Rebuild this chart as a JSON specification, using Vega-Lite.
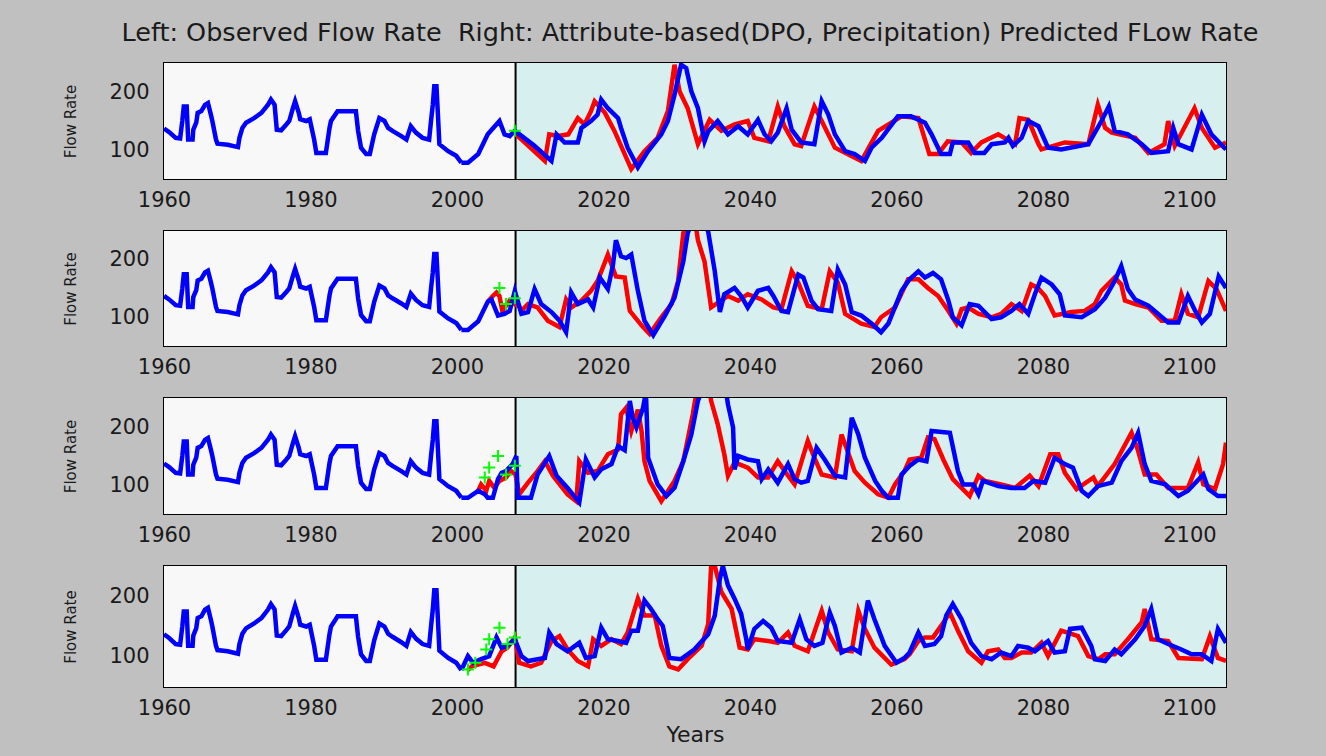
{
"$schema": "https://vega.github.io/schema/vega-lite/v6.json",
"background": "#c0c0c0",
"padding": {"left": 62, "top": 20, "right": 101, "bottom": 12},
"title": {"text": "Left: Observed Flow Rate \u00a0Right: Attribute-based(DPO, Precipitation) Predicted FLow Rate", "fontSize": 25.5, "font": "DejaVu Sans", "fontWeight": "normal", "color": "#1a1a1a", "anchor": "middle", "offset": 15, "dx": 45},
"spacing": 52,
"bounds": "flush",
"config": {
  "view": {"stroke": "#000000", "strokeWidth": 2},
  "axis": {"domain": false, "grid": false, "zindex": 1, "tickColor": "#000000", "tickWidth": 2, "labelFont": "DejaVu Sans", "labelFontSize": 21, "labelColor": "#1a1a1a", "titleFont": "DejaVu Sans", "titleFontSize": 15, "titleFontWeight": "normal", "titleColor": "#1a1a1a", "labelFlush": false, "labelOverlap": false}
},
"datasets": {
  "bg": [{"a": 1960, "b": 2008, "c": "obs"}, {"a": 2008, "b": 2105, "c": "pred"}],
  "obs": [
    {"t":1960,"v":137},{"t":1960.7,"v":131},{"t":1961.6,"v":121},{"t":1962.2,"v":120},{"t":1962.5,"v":150},{"t":1962.7,"v":175},{"t":1963.1,"v":175},{"t":1963.3,"v":118},{"t":1963.9,"v":118},{"t":1964.0,"v":135},{"t":1964.4,"v":147},{"t":1964.6,"v":164},{"t":1965.1,"v":167},{"t":1965.6,"v":178},{"t":1966.0,"v":181},{"t":1966.4,"v":161},{"t":1966.6,"v":150},{"t":1967.1,"v":118},{"t":1967.3,"v":111},{"t":1968.7,"v":109},{"t":1970.1,"v":105},{"t":1970.3,"v":121},{"t":1970.7,"v":138},{"t":1971.2,"v":147},{"t":1972.3,"v":155},{"t":1973.3,"v":164},{"t":1974.2,"v":178},{"t":1974.6,"v":187},{"t":1975.1,"v":178},{"t":1975.4,"v":135},{"t":1976.0,"v":134},{"t":1976.7,"v":144},{"t":1977.1,"v":150},{"t":1977.6,"v":172},{"t":1977.9,"v":184},{"t":1978.4,"v":164},{"t":1978.6,"v":153},{"t":1979.4,"v":150},{"t":1979.9,"v":153},{"t":1980.5,"v":118},{"t":1980.8,"v":95},{"t":1982.1,"v":95},{"t":1982.6,"v":138},{"t":1982.8,"v":150},{"t":1983.7,"v":167},{"t":1986.2,"v":167},{"t":1986.5,"v":133},{"t":1986.9,"v":104},{"t":1987.6,"v":93},{"t":1988.1,"v":93},{"t":1988.7,"v":127},{"t":1989.4,"v":155},{"t":1990.1,"v":150},{"t":1990.6,"v":138},{"t":1991.2,"v":133},{"t":1992.4,"v":124},{"t":1993.1,"v":118},{"t":1993.7,"v":141},{"t":1994.4,"v":130},{"t":1995.3,"v":121},{"t":1996.2,"v":118},{"t":1996.5,"v":155},{"t":1996.7,"v":178},{"t":1996.9,"v":210},{"t":1997.2,"v":210},{"t":1997.4,"v":161},{"t":1997.6,"v":110},{"t":1998.8,"v":98},{"t":1999.9,"v":90},{"t":2000.6,"v":78}
  ],
  "ser": [
    {"p":1,"s":"B","t":2000.6,"v":78},{"p":1,"s":"B","t":2001.5,"v":78},{"p":1,"s":"B","t":2002.9,"v":93},{"p":1,"s":"B","t":2004.2,"v":127},{"p":1,"s":"B","t":2005.8,"v":150},{"p":1,"s":"B","t":2006.5,"v":127},{"p":1,"s":"B","t":2007.2,"v":124},{"p":1,"s":"B","t":2007.9,"v":133},{"p":1,"s":"B","t":2010.5,"v":108},{"p":1,"s":"B","t":2012.9,"v":81},{"p":1,"s":"B","t":2013.6,"v":127},{"p":1,"s":"B","t":2014.7,"v":113},{"p":1,"s":"B","t":2016.5,"v":113},{"p":1,"s":"B","t":2017,"v":138},{"p":1,"s":"B","t":2018.3,"v":150},{"p":1,"s":"B","t":2019.2,"v":161},{"p":1,"s":"B","t":2019.7,"v":187},{"p":1,"s":"B","t":2020.6,"v":172},{"p":1,"s":"B","t":2022,"v":155},{"p":1,"s":"B","t":2022.4,"v":138},{"p":1,"s":"B","t":2023.3,"v":104},{"p":1,"s":"B","t":2024.7,"v":70},{"p":1,"s":"B","t":2026.1,"v":98},{"p":1,"s":"B","t":2027.9,"v":127},{"p":1,"s":"B","t":2028.8,"v":150},{"p":1,"s":"B","t":2029.7,"v":195},{"p":1,"s":"B","t":2030.6,"v":247},{"p":1,"s":"B","t":2031.3,"v":241},{"p":1,"s":"B","t":2032,"v":201},{"p":1,"s":"B","t":2032.9,"v":172},{"p":1,"s":"B","t":2033.8,"v":115},{"p":1,"s":"B","t":2034.3,"v":132},{"p":1,"s":"B","t":2035.6,"v":150},{"p":1,"s":"B","t":2037,"v":127},{"p":1,"s":"B","t":2038.4,"v":141},{"p":1,"s":"B","t":2039.7,"v":127},{"p":1,"s":"B","t":2041.1,"v":152},{"p":1,"s":"B","t":2042,"v":127},{"p":1,"s":"B","t":2042.9,"v":115},{"p":1,"s":"B","t":2043.8,"v":130},{"p":1,"s":"B","t":2045,"v":172},{"p":1,"s":"B","t":2045.7,"v":135},{"p":1,"s":"B","t":2047,"v":113},{"p":1,"s":"B","t":2048.8,"v":110},{"p":1,"s":"B","t":2049.8,"v":184},{"p":1,"s":"B","t":2050.7,"v":161},{"p":1,"s":"B","t":2051.6,"v":127},{"p":1,"s":"B","t":2053,"v":98},{"p":1,"s":"B","t":2054.3,"v":93},{"p":1,"s":"B","t":2055.7,"v":81},{"p":1,"s":"B","t":2056.6,"v":104},{"p":1,"s":"B","t":2058,"v":121},{"p":1,"s":"B","t":2060.2,"v":158},{"p":1,"s":"B","t":2062,"v":158},{"p":1,"s":"B","t":2063.9,"v":147},{"p":1,"s":"B","t":2064.8,"v":127},{"p":1,"s":"B","t":2066.1,"v":93},{"p":1,"s":"B","t":2067.3,"v":93},{"p":1,"s":"B","t":2067.7,"v":113},{"p":1,"s":"B","t":2069.8,"v":113},{"p":1,"s":"B","t":2070.7,"v":95},{"p":1,"s":"B","t":2072,"v":95},{"p":1,"s":"B","t":2073,"v":110},{"p":1,"s":"B","t":2074.8,"v":113},{"p":1,"s":"B","t":2075.3,"v":121},{"p":1,"s":"B","t":2075.9,"v":107},{"p":1,"s":"B","t":2077.1,"v":121},{"p":1,"s":"B","t":2078,"v":150},{"p":1,"s":"B","t":2079.4,"v":141},{"p":1,"s":"B","t":2080.7,"v":104},{"p":1,"s":"B","t":2082.5,"v":101},{"p":1,"s":"B","t":2086.2,"v":110},{"p":1,"s":"B","t":2088,"v":150},{"p":1,"s":"B","t":2089,"v":175},{"p":1,"s":"B","t":2089.8,"v":133},{"p":1,"s":"B","t":2091.6,"v":127},{"p":1,"s":"B","t":2093.5,"v":110},{"p":1,"s":"B","t":2094.8,"v":95},{"p":1,"s":"B","t":2097.1,"v":98},{"p":1,"s":"B","t":2097.8,"v":138},{"p":1,"s":"B","t":2098.5,"v":110},{"p":1,"s":"B","t":2100.3,"v":101},{"p":1,"s":"B","t":2101.7,"v":161},{"p":1,"s":"B","t":2103,"v":127},{"p":1,"s":"B","t":2105,"v":101},
    {"p":1,"s":"R","t":2007.9,"v":133},{"p":1,"s":"R","t":2008.2,"v":125},{"p":1,"s":"R","t":2012,"v":81},{"p":1,"s":"R","t":2012.6,"v":127},{"p":1,"s":"R","t":2013.8,"v":124},{"p":1,"s":"R","t":2015.2,"v":127},{"p":1,"s":"R","t":2016.5,"v":155},{"p":1,"s":"R","t":2017.4,"v":144},{"p":1,"s":"R","t":2018.3,"v":167},{"p":1,"s":"R","t":2018.8,"v":184},{"p":1,"s":"R","t":2020.2,"v":164},{"p":1,"s":"R","t":2021.5,"v":133},{"p":1,"s":"R","t":2023.8,"v":67},{"p":1,"s":"R","t":2025.6,"v":98},{"p":1,"s":"R","t":2027.4,"v":121},{"p":1,"s":"R","t":2028.8,"v":167},{"p":1,"s":"R","t":2029.7,"v":247},{"p":1,"s":"R","t":2030.4,"v":201},{"p":1,"s":"R","t":2031.5,"v":172},{"p":1,"s":"R","t":2032.9,"v":110},{"p":1,"s":"R","t":2034.5,"v":152},{"p":1,"s":"R","t":2036.1,"v":133},{"p":1,"s":"R","t":2037.9,"v":144},{"p":1,"s":"R","t":2039.7,"v":150},{"p":1,"s":"R","t":2040.6,"v":121},{"p":1,"s":"R","t":2042.5,"v":115},{"p":1,"s":"R","t":2043.8,"v":175},{"p":1,"s":"R","t":2044.7,"v":141},{"p":1,"s":"R","t":2046.1,"v":110},{"p":1,"s":"R","t":2047,"v":107},{"p":1,"s":"R","t":2048.8,"v":175},{"p":1,"s":"R","t":2049.8,"v":150},{"p":1,"s":"R","t":2051.6,"v":104},{"p":1,"s":"R","t":2055.2,"v":81},{"p":1,"s":"R","t":2057.5,"v":133},{"p":1,"s":"R","t":2060.7,"v":158},{"p":1,"s":"R","t":2063,"v":155},{"p":1,"s":"R","t":2064.5,"v":93},{"p":1,"s":"R","t":2065.7,"v":93},{"p":1,"s":"R","t":2067,"v":115},{"p":1,"s":"R","t":2068.9,"v":113},{"p":1,"s":"R","t":2070.2,"v":95},{"p":1,"s":"R","t":2071.6,"v":113},{"p":1,"s":"R","t":2073.9,"v":127},{"p":1,"s":"R","t":2076.2,"v":110},{"p":1,"s":"R","t":2076.8,"v":155},{"p":1,"s":"R","t":2078,"v":152},{"p":1,"s":"R","t":2079.4,"v":110},{"p":1,"s":"R","t":2079.8,"v":101},{"p":1,"s":"R","t":2083,"v":113},{"p":1,"s":"R","t":2086.2,"v":110},{"p":1,"s":"R","t":2087.5,"v":178},{"p":1,"s":"R","t":2088.5,"v":138},{"p":1,"s":"R","t":2089.4,"v":130},{"p":1,"s":"R","t":2092.6,"v":121},{"p":1,"s":"R","t":2094.4,"v":95},{"p":1,"s":"R","t":2096.6,"v":110},{"p":1,"s":"R","t":2097.1,"v":150},{"p":1,"s":"R","t":2098,"v":107},{"p":1,"s":"R","t":2100.7,"v":172},{"p":1,"s":"R","t":2101.7,"v":138},{"p":1,"s":"R","t":2103.5,"v":104},{"p":1,"s":"R","t":2105,"v":113},
    {"p":2,"s":"B","t":2000.6,"v":78},{"p":2,"s":"B","t":2001.5,"v":78},{"p":2,"s":"B","t":2002.9,"v":93},{"p":2,"s":"B","t":2004.2,"v":127},{"p":2,"s":"B","t":2004.7,"v":131},{"p":2,"s":"B","t":2005.6,"v":103},{"p":2,"s":"B","t":2006.5,"v":106},{"p":2,"s":"B","t":2007.2,"v":111},{"p":2,"s":"B","t":2007.9,"v":146},{"p":2,"s":"B","t":2008.8,"v":106},{"p":2,"s":"B","t":2009.7,"v":109},{"p":2,"s":"B","t":2010.6,"v":149},{"p":2,"s":"B","t":2011.5,"v":123},{"p":2,"s":"B","t":2012.9,"v":109},{"p":2,"s":"B","t":2014,"v":94},{"p":2,"s":"B","t":2014.9,"v":74},{"p":2,"s":"B","t":2015.6,"v":143},{"p":2,"s":"B","t":2016.5,"v":123},{"p":2,"s":"B","t":2017.9,"v":131},{"p":2,"s":"B","t":2018.6,"v":117},{"p":2,"s":"B","t":2019.5,"v":169},{"p":2,"s":"B","t":2020.6,"v":149},{"p":2,"s":"B","t":2021.3,"v":191},{"p":2,"s":"B","t":2021.7,"v":234},{"p":2,"s":"B","t":2022.4,"v":206},{"p":2,"s":"B","t":2023.1,"v":203},{"p":2,"s":"B","t":2023.8,"v":209},{"p":2,"s":"B","t":2024.7,"v":146},{"p":2,"s":"B","t":2025.6,"v":94},{"p":2,"s":"B","t":2026.8,"v":69},{"p":2,"s":"B","t":2028.4,"v":103},{"p":2,"s":"B","t":2029.7,"v":134},{"p":2,"s":"B","t":2030.9,"v":197},{"p":2,"s":"B","t":2031.5,"v":246},{"p":2,"s":"B","t":2032.8,"v":290},{"p":2,"s":"B","t":2034.3,"v":249},{"p":2,"s":"B","t":2035.2,"v":180},{"p":2,"s":"B","t":2035.9,"v":109},{"p":2,"s":"B","t":2036.5,"v":140},{"p":2,"s":"B","t":2037.9,"v":151},{"p":2,"s":"B","t":2038.8,"v":137},{"p":2,"s":"B","t":2039.7,"v":117},{"p":2,"s":"B","t":2041.1,"v":146},{"p":2,"s":"B","t":2042.5,"v":151},{"p":2,"s":"B","t":2043.2,"v":137},{"p":2,"s":"B","t":2044.3,"v":111},{"p":2,"s":"B","t":2045.2,"v":109},{"p":2,"s":"B","t":2046.6,"v":174},{"p":2,"s":"B","t":2047.3,"v":169},{"p":2,"s":"B","t":2048.4,"v":129},{"p":2,"s":"B","t":2049.3,"v":114},{"p":2,"s":"B","t":2051.1,"v":111},{"p":2,"s":"B","t":2052,"v":183},{"p":2,"s":"B","t":2053,"v":157},{"p":2,"s":"B","t":2053.9,"v":109},{"p":2,"s":"B","t":2055.2,"v":103},{"p":2,"s":"B","t":2056.6,"v":89},{"p":2,"s":"B","t":2057.9,"v":74},{"p":2,"s":"B","t":2058.9,"v":89},{"p":2,"s":"B","t":2060.7,"v":146},{"p":2,"s":"B","t":2061.8,"v":166},{"p":2,"s":"B","t":2063,"v":180},{"p":2,"s":"B","t":2063.9,"v":169},{"p":2,"s":"B","t":2065,"v":177},{"p":2,"s":"B","t":2066.1,"v":166},{"p":2,"s":"B","t":2067.1,"v":129},{"p":2,"s":"B","t":2067.7,"v":100},{"p":2,"s":"B","t":2068.9,"v":86},{"p":2,"s":"B","t":2070,"v":123},{"p":2,"s":"B","t":2071.2,"v":120},{"p":2,"s":"B","t":2073,"v":97},{"p":2,"s":"B","t":2074.3,"v":100},{"p":2,"s":"B","t":2075.7,"v":111},{"p":2,"s":"B","t":2076.8,"v":123},{"p":2,"s":"B","t":2078,"v":106},{"p":2,"s":"B","t":2078.9,"v":140},{"p":2,"s":"B","t":2079.8,"v":169},{"p":2,"s":"B","t":2081.2,"v":157},{"p":2,"s":"B","t":2082.3,"v":140},{"p":2,"s":"B","t":2083,"v":103},{"p":2,"s":"B","t":2085.3,"v":100},{"p":2,"s":"B","t":2087.1,"v":114},{"p":2,"s":"B","t":2088.5,"v":134},{"p":2,"s":"B","t":2089.8,"v":163},{"p":2,"s":"B","t":2090.7,"v":189},{"p":2,"s":"B","t":2091.6,"v":149},{"p":2,"s":"B","t":2092.6,"v":131},{"p":2,"s":"B","t":2094.4,"v":120},{"p":2,"s":"B","t":2095.7,"v":106},{"p":2,"s":"B","t":2097.1,"v":91},{"p":2,"s":"B","t":2098.5,"v":91},{"p":2,"s":"B","t":2099.8,"v":137},{"p":2,"s":"B","t":2100.8,"v":111},{"p":2,"s":"B","t":2101.7,"v":91},{"p":2,"s":"B","t":2102.8,"v":106},{"p":2,"s":"B","t":2104,"v":171},{"p":2,"s":"B","t":2105,"v":151},
    {"p":2,"s":"R","t":2004.2,"v":127},{"p":2,"s":"R","t":2004.9,"v":137},{"p":2,"s":"R","t":2005.4,"v":143},{"p":2,"s":"R","t":2005.8,"v":137},{"p":2,"s":"R","t":2006.2,"v":111},{"p":2,"s":"R","t":2007.2,"v":129},{"p":2,"s":"R","t":2007.9,"v":123},{"p":2,"s":"R","t":2008.1,"v":129},{"p":2,"s":"R","t":2008.8,"v":111},{"p":2,"s":"R","t":2009.7,"v":123},{"p":2,"s":"R","t":2011,"v":117},{"p":2,"s":"R","t":2012.4,"v":94},{"p":2,"s":"R","t":2014,"v":83},{"p":2,"s":"R","t":2014.9,"v":131},{"p":2,"s":"R","t":2015.6,"v":117},{"p":2,"s":"R","t":2017,"v":129},{"p":2,"s":"R","t":2018.3,"v":146},{"p":2,"s":"R","t":2019.2,"v":163},{"p":2,"s":"R","t":2020.6,"v":209},{"p":2,"s":"R","t":2021.7,"v":171},{"p":2,"s":"R","t":2022.9,"v":169},{"p":2,"s":"R","t":2023.6,"v":111},{"p":2,"s":"R","t":2025.2,"v":86},{"p":2,"s":"R","t":2026.3,"v":71},{"p":2,"s":"R","t":2027.9,"v":100},{"p":2,"s":"R","t":2029.3,"v":123},{"p":2,"s":"R","t":2030.2,"v":163},{"p":2,"s":"R","t":2030.9,"v":246},{"p":2,"s":"R","t":2031.7,"v":285},{"p":2,"s":"R","t":2032.6,"v":260},{"p":2,"s":"R","t":2032.9,"v":234},{"p":2,"s":"R","t":2033.8,"v":197},{"p":2,"s":"R","t":2034.7,"v":117},{"p":2,"s":"R","t":2037,"v":137},{"p":2,"s":"R","t":2038.4,"v":129},{"p":2,"s":"R","t":2039.7,"v":140},{"p":2,"s":"R","t":2041.6,"v":131},{"p":2,"s":"R","t":2043.2,"v":117},{"p":2,"s":"R","t":2044.3,"v":114},{"p":2,"s":"R","t":2045.7,"v":180},{"p":2,"s":"R","t":2046.6,"v":160},{"p":2,"s":"R","t":2047.9,"v":120},{"p":2,"s":"R","t":2049.8,"v":114},{"p":2,"s":"R","t":2050.9,"v":180},{"p":2,"s":"R","t":2052,"v":160},{"p":2,"s":"R","t":2053,"v":106},{"p":2,"s":"R","t":2055.2,"v":89},{"p":2,"s":"R","t":2057,"v":83},{"p":2,"s":"R","t":2057.9,"v":100},{"p":2,"s":"R","t":2059.8,"v":117},{"p":2,"s":"R","t":2061.6,"v":166},{"p":2,"s":"R","t":2063,"v":166},{"p":2,"s":"R","t":2064.3,"v":151},{"p":2,"s":"R","t":2065.7,"v":137},{"p":2,"s":"R","t":2067.1,"v":111},{"p":2,"s":"R","t":2068.2,"v":89},{"p":2,"s":"R","t":2068.9,"v":114},{"p":2,"s":"R","t":2069.8,"v":117},{"p":2,"s":"R","t":2071.2,"v":106},{"p":2,"s":"R","t":2073,"v":100},{"p":2,"s":"R","t":2074.3,"v":106},{"p":2,"s":"R","t":2075.7,"v":123},{"p":2,"s":"R","t":2077.1,"v":111},{"p":2,"s":"R","t":2078.4,"v":157},{"p":2,"s":"R","t":2079.3,"v":151},{"p":2,"s":"R","t":2080.3,"v":137},{"p":2,"s":"R","t":2081.6,"v":103},{"p":2,"s":"R","t":2083.9,"v":109},{"p":2,"s":"R","t":2085.7,"v":111},{"p":2,"s":"R","t":2087.1,"v":123},{"p":2,"s":"R","t":2088,"v":146},{"p":2,"s":"R","t":2089.8,"v":169},{"p":2,"s":"R","t":2090.7,"v":157},{"p":2,"s":"R","t":2091.2,"v":129},{"p":2,"s":"R","t":2092.6,"v":123},{"p":2,"s":"R","t":2094.4,"v":117},{"p":2,"s":"R","t":2096.2,"v":94},{"p":2,"s":"R","t":2098,"v":94},{"p":2,"s":"R","t":2098.9,"v":140},{"p":2,"s":"R","t":2099.8,"v":106},{"p":2,"s":"R","t":2101.2,"v":100},{"p":2,"s":"R","t":2102.6,"v":163},{"p":2,"s":"R","t":2103.7,"v":149},{"p":2,"s":"R","t":2105,"v":111},
    {"p":3,"s":"B","t":2000.6,"v":78},{"p":3,"s":"B","t":2001.5,"v":78},{"p":3,"s":"B","t":2002.9,"v":90},{"p":3,"s":"B","t":2003.8,"v":84},{"p":3,"s":"B","t":2004.2,"v":78},{"p":3,"s":"B","t":2004.9,"v":78},{"p":3,"s":"B","t":2005.6,"v":110},{"p":3,"s":"B","t":2006.1,"v":121},{"p":3,"s":"B","t":2006.7,"v":124},{"p":3,"s":"B","t":2007.6,"v":136},{"p":3,"s":"B","t":2008.1,"v":150},{"p":3,"s":"B","t":2008.3,"v":78},{"p":3,"s":"B","t":2010.1,"v":78},{"p":3,"s":"B","t":2011,"v":118},{"p":3,"s":"B","t":2012.6,"v":150},{"p":3,"s":"B","t":2013.6,"v":116},{"p":3,"s":"B","t":2015.1,"v":95},{"p":3,"s":"B","t":2016.7,"v":70},{"p":3,"s":"B","t":2017.6,"v":144},{"p":3,"s":"B","t":2018.8,"v":113},{"p":3,"s":"B","t":2019.7,"v":127},{"p":3,"s":"B","t":2021.1,"v":136},{"p":3,"s":"B","t":2022,"v":167},{"p":3,"s":"B","t":2022.9,"v":160},{"p":3,"s":"B","t":2023.6,"v":245},{"p":3,"s":"B","t":2024,"v":216},{"p":3,"s":"B","t":2024.5,"v":199},{"p":3,"s":"B","t":2025.4,"v":233},{"p":3,"s":"B","t":2025.8,"v":260},{"p":3,"s":"B","t":2026.1,"v":147},{"p":3,"s":"B","t":2027.4,"v":101},{"p":3,"s":"B","t":2028.6,"v":81},{"p":3,"s":"B","t":2029.7,"v":95},{"p":3,"s":"B","t":2030.9,"v":141},{"p":3,"s":"B","t":2032,"v":187},{"p":3,"s":"B","t":2032.9,"v":245},{"p":3,"s":"B","t":2034.5,"v":300},{"p":3,"s":"B","t":2036.4,"v":290},{"p":3,"s":"B","t":2037,"v":239},{"p":3,"s":"B","t":2037.7,"v":199},{"p":3,"s":"B","t":2037.9,"v":127},{"p":3,"s":"B","t":2038.4,"v":150},{"p":3,"s":"B","t":2039.7,"v":144},{"p":3,"s":"B","t":2041.1,"v":141},{"p":3,"s":"B","t":2041.6,"v":110},{"p":3,"s":"B","t":2042.5,"v":127},{"p":3,"s":"B","t":2043.8,"v":104},{"p":3,"s":"B","t":2045.2,"v":136},{"p":3,"s":"B","t":2046.1,"v":110},{"p":3,"s":"B","t":2047,"v":104},{"p":3,"s":"B","t":2047.9,"v":107},{"p":3,"s":"B","t":2049.1,"v":164},{"p":3,"s":"B","t":2050.2,"v":144},{"p":3,"s":"B","t":2051.6,"v":116},{"p":3,"s":"B","t":2053,"v":113},{"p":3,"s":"B","t":2053.9,"v":216},{"p":3,"s":"B","t":2054.8,"v":187},{"p":3,"s":"B","t":2055.7,"v":147},{"p":3,"s":"B","t":2057.1,"v":107},{"p":3,"s":"B","t":2058,"v":90},{"p":3,"s":"B","t":2058.9,"v":78},{"p":3,"s":"B","t":2060.2,"v":78},{"p":3,"s":"B","t":2060.7,"v":118},{"p":3,"s":"B","t":2061.8,"v":133},{"p":3,"s":"B","t":2063,"v":144},{"p":3,"s":"B","t":2064.1,"v":141},{"p":3,"s":"B","t":2064.8,"v":193},{"p":3,"s":"B","t":2067.3,"v":190},{"p":3,"s":"B","t":2068.4,"v":124},{"p":3,"s":"B","t":2069.1,"v":101},{"p":3,"s":"B","t":2070.5,"v":101},{"p":3,"s":"B","t":2071.2,"v":84},{"p":3,"s":"B","t":2071.8,"v":107},{"p":3,"s":"B","t":2073.9,"v":98},{"p":3,"s":"B","t":2075.7,"v":95},{"p":3,"s":"B","t":2077.5,"v":95},{"p":3,"s":"B","t":2078.7,"v":107},{"p":3,"s":"B","t":2080.3,"v":104},{"p":3,"s":"B","t":2081.6,"v":147},{"p":3,"s":"B","t":2083,"v":136},{"p":3,"s":"B","t":2084.1,"v":130},{"p":3,"s":"B","t":2085.3,"v":90},{"p":3,"s":"B","t":2086.2,"v":81},{"p":3,"s":"B","t":2087.5,"v":98},{"p":3,"s":"B","t":2089.4,"v":104},{"p":3,"s":"B","t":2090.7,"v":141},{"p":3,"s":"B","t":2092.1,"v":164},{"p":3,"s":"B","t":2093,"v":190},{"p":3,"s":"B","t":2093.9,"v":136},{"p":3,"s":"B","t":2094.8,"v":107},{"p":3,"s":"B","t":2096.7,"v":101},{"p":3,"s":"B","t":2098.5,"v":81},{"p":3,"s":"B","t":2099.8,"v":90},{"p":3,"s":"B","t":2101.9,"v":118},{"p":3,"s":"B","t":2102.6,"v":93},{"p":3,"s":"B","t":2103.9,"v":81},{"p":3,"s":"B","t":2105,"v":81},
    {"p":3,"s":"R","t":2002.9,"v":90},{"p":3,"s":"R","t":2003.3,"v":101},{"p":3,"s":"R","t":2004,"v":90},{"p":3,"s":"R","t":2004.4,"v":107},{"p":3,"s":"R","t":2005.1,"v":95},{"p":3,"s":"R","t":2005.8,"v":107},{"p":3,"s":"R","t":2006.7,"v":113},{"p":3,"s":"R","t":2007.4,"v":124},{"p":3,"s":"R","t":2008,"v":118},{"p":3,"s":"R","t":2008.5,"v":84},{"p":3,"s":"R","t":2009.7,"v":104},{"p":3,"s":"R","t":2011,"v":124},{"p":3,"s":"R","t":2012,"v":141},{"p":3,"s":"R","t":2013.1,"v":116},{"p":3,"s":"R","t":2015.1,"v":84},{"p":3,"s":"R","t":2016.3,"v":72},{"p":3,"s":"R","t":2016.7,"v":141},{"p":3,"s":"R","t":2017.9,"v":121},{"p":3,"s":"R","t":2019.2,"v":124},{"p":3,"s":"R","t":2020.6,"v":153},{"p":3,"s":"R","t":2022,"v":161},{"p":3,"s":"R","t":2022.4,"v":222},{"p":3,"s":"R","t":2023.1,"v":233},{"p":3,"s":"R","t":2023.8,"v":193},{"p":3,"s":"R","t":2024.7,"v":230},{"p":3,"s":"R","t":2025.2,"v":193},{"p":3,"s":"R","t":2025.6,"v":141},{"p":3,"s":"R","t":2026.3,"v":107},{"p":3,"s":"R","t":2027.9,"v":72},{"p":3,"s":"R","t":2029.7,"v":107},{"p":3,"s":"R","t":2030.9,"v":141},{"p":3,"s":"R","t":2032.2,"v":222},{"p":3,"s":"R","t":2032.5,"v":245},{"p":3,"s":"R","t":2033.5,"v":300},{"p":3,"s":"R","t":2034.2,"v":290},{"p":3,"s":"R","t":2034.7,"v":245},{"p":3,"s":"R","t":2035.6,"v":205},{"p":3,"s":"R","t":2036.5,"v":153},{"p":3,"s":"R","t":2037,"v":116},{"p":3,"s":"R","t":2037.9,"v":139},{"p":3,"s":"R","t":2039.7,"v":130},{"p":3,"s":"R","t":2041.1,"v":113},{"p":3,"s":"R","t":2042.5,"v":113},{"p":3,"s":"R","t":2043.8,"v":141},{"p":3,"s":"R","t":2045.2,"v":116},{"p":3,"s":"R","t":2046.1,"v":101},{"p":3,"s":"R","t":2047.9,"v":176},{"p":3,"s":"R","t":2048.8,"v":147},{"p":3,"s":"R","t":2049.8,"v":118},{"p":3,"s":"R","t":2051.6,"v":113},{"p":3,"s":"R","t":2052.5,"v":187},{"p":3,"s":"R","t":2053.4,"v":156},{"p":3,"s":"R","t":2054.3,"v":124},{"p":3,"s":"R","t":2055.7,"v":104},{"p":3,"s":"R","t":2057.5,"v":84},{"p":3,"s":"R","t":2058.9,"v":78},{"p":3,"s":"R","t":2059.8,"v":101},{"p":3,"s":"R","t":2061.1,"v":124},{"p":3,"s":"R","t":2061.8,"v":144},{"p":3,"s":"R","t":2063.4,"v":147},{"p":3,"s":"R","t":2064.3,"v":182},{"p":3,"s":"R","t":2065.2,"v":179},{"p":3,"s":"R","t":2066.4,"v":144},{"p":3,"s":"R","t":2067.7,"v":110},{"p":3,"s":"R","t":2070,"v":81},{"p":3,"s":"R","t":2071.2,"v":116},{"p":3,"s":"R","t":2072.1,"v":107},{"p":3,"s":"R","t":2074.3,"v":101},{"p":3,"s":"R","t":2076.2,"v":95},{"p":3,"s":"R","t":2078.2,"v":116},{"p":3,"s":"R","t":2079.4,"v":98},{"p":3,"s":"R","t":2081,"v":153},{"p":3,"s":"R","t":2082.1,"v":153},{"p":3,"s":"R","t":2083,"v":121},{"p":3,"s":"R","t":2084.6,"v":93},{"p":3,"s":"R","t":2086.9,"v":113},{"p":3,"s":"R","t":2087.5,"v":98},{"p":3,"s":"R","t":2089.8,"v":136},{"p":3,"s":"R","t":2092.1,"v":190},{"p":3,"s":"R","t":2093,"v":159},{"p":3,"s":"R","t":2093.9,"v":118},{"p":3,"s":"R","t":2095.5,"v":118},{"p":3,"s":"R","t":2097.1,"v":95},{"p":3,"s":"R","t":2099.8,"v":95},{"p":3,"s":"R","t":2101.2,"v":139},{"p":3,"s":"R","t":2101.9,"v":101},{"p":3,"s":"R","t":2103.5,"v":93},{"p":3,"s":"R","t":2104.6,"v":136},{"p":3,"s":"R","t":2105,"v":173},
    {"p":4,"s":"B","t":2000.6,"v":78},{"p":4,"s":"B","t":2001.5,"v":101},{"p":4,"s":"B","t":2002.2,"v":90},{"p":4,"s":"B","t":2003.3,"v":96},{"p":4,"s":"B","t":2004.4,"v":101},{"p":4,"s":"B","t":2005.4,"v":132},{"p":4,"s":"B","t":2006.1,"v":115},{"p":4,"s":"B","t":2006.9,"v":118},{"p":4,"s":"B","t":2007.9,"v":129},{"p":4,"s":"B","t":2008.8,"v":101},{"p":4,"s":"B","t":2009.7,"v":93},{"p":4,"s":"B","t":2011,"v":96},{"p":4,"s":"B","t":2012,"v":98},{"p":4,"s":"B","t":2012.6,"v":140},{"p":4,"s":"B","t":2013.6,"v":121},{"p":4,"s":"B","t":2015.1,"v":109},{"p":4,"s":"B","t":2016.7,"v":123},{"p":4,"s":"B","t":2017.6,"v":98},{"p":4,"s":"B","t":2018.8,"v":101},{"p":4,"s":"B","t":2019.7,"v":148},{"p":4,"s":"B","t":2020.6,"v":129},{"p":4,"s":"B","t":2022,"v":126},{"p":4,"s":"B","t":2023.1,"v":123},{"p":4,"s":"B","t":2023.8,"v":143},{"p":4,"s":"B","t":2024.7,"v":143},{"p":4,"s":"B","t":2025.6,"v":193},{"p":4,"s":"B","t":2026.5,"v":179},{"p":4,"s":"B","t":2027.4,"v":162},{"p":4,"s":"B","t":2028.1,"v":151},{"p":4,"s":"B","t":2029,"v":98},{"p":4,"s":"B","t":2030.6,"v":96},{"p":4,"s":"B","t":2032.4,"v":112},{"p":4,"s":"B","t":2034.3,"v":137},{"p":4,"s":"B","t":2035.2,"v":168},{"p":4,"s":"B","t":2035.9,"v":229},{"p":4,"s":"B","t":2036.3,"v":250},{"p":4,"s":"B","t":2037,"v":218},{"p":4,"s":"B","t":2037.9,"v":196},{"p":4,"s":"B","t":2038.8,"v":171},{"p":4,"s":"B","t":2039.5,"v":129},{"p":4,"s":"B","t":2039.7,"v":112},{"p":4,"s":"B","t":2040.6,"v":146},{"p":4,"s":"B","t":2041.8,"v":159},{"p":4,"s":"B","t":2042.9,"v":148},{"p":4,"s":"B","t":2043.8,"v":126},{"p":4,"s":"B","t":2045.7,"v":123},{"p":4,"s":"B","t":2046.8,"v":162},{"p":4,"s":"B","t":2047.7,"v":129},{"p":4,"s":"B","t":2048.8,"v":118},{"p":4,"s":"B","t":2049.9,"v":123},{"p":4,"s":"B","t":2050.9,"v":173},{"p":4,"s":"B","t":2051.6,"v":151},{"p":4,"s":"B","t":2052.5,"v":107},{"p":4,"s":"B","t":2053.9,"v":115},{"p":4,"s":"B","t":2055,"v":107},{"p":4,"s":"B","t":2056.1,"v":193},{"p":4,"s":"B","t":2057,"v":162},{"p":4,"s":"B","t":2058.4,"v":118},{"p":4,"s":"B","t":2060,"v":90},{"p":4,"s":"B","t":2061.1,"v":98},{"p":4,"s":"B","t":2061.8,"v":107},{"p":4,"s":"B","t":2063,"v":140},{"p":4,"s":"B","t":2063.9,"v":118},{"p":4,"s":"B","t":2065.2,"v":121},{"p":4,"s":"B","t":2066.1,"v":134},{"p":4,"s":"B","t":2066.8,"v":168},{"p":4,"s":"B","t":2067.7,"v":187},{"p":4,"s":"B","t":2068.9,"v":162},{"p":4,"s":"B","t":2070.2,"v":123},{"p":4,"s":"B","t":2071.6,"v":101},{"p":4,"s":"B","t":2073,"v":96},{"p":4,"s":"B","t":2074.3,"v":107},{"p":4,"s":"B","t":2075.7,"v":101},{"p":4,"s":"B","t":2076.6,"v":118},{"p":4,"s":"B","t":2078,"v":115},{"p":4,"s":"B","t":2078.9,"v":109},{"p":4,"s":"B","t":2080.7,"v":126},{"p":4,"s":"B","t":2081.6,"v":107},{"p":4,"s":"B","t":2083,"v":109},{"p":4,"s":"B","t":2083.7,"v":146},{"p":4,"s":"B","t":2085.3,"v":148},{"p":4,"s":"B","t":2086.6,"v":118},{"p":4,"s":"B","t":2087.1,"v":96},{"p":4,"s":"B","t":2088.5,"v":93},{"p":4,"s":"B","t":2089.8,"v":112},{"p":4,"s":"B","t":2090.7,"v":104},{"p":4,"s":"B","t":2092.6,"v":129},{"p":4,"s":"B","t":2093.9,"v":151},{"p":4,"s":"B","t":2094.8,"v":179},{"p":4,"s":"B","t":2095.7,"v":129},{"p":4,"s":"B","t":2097.1,"v":121},{"p":4,"s":"B","t":2098.9,"v":112},{"p":4,"s":"B","t":2100.3,"v":104},{"p":4,"s":"B","t":2101.7,"v":104},{"p":4,"s":"B","t":2103,"v":93},{"p":4,"s":"B","t":2103.9,"v":146},{"p":4,"s":"B","t":2105,"v":123},
    {"p":4,"s":"R","t":2001.5,"v":78},{"p":4,"s":"R","t":2002,"v":84},{"p":4,"s":"R","t":2003.8,"v":90},{"p":4,"s":"R","t":2005,"v":84},{"p":4,"s":"R","t":2006.1,"v":109},{"p":4,"s":"R","t":2006.9,"v":115},{"p":4,"s":"R","t":2007.9,"v":132},{"p":4,"s":"R","t":2008.1,"v":118},{"p":4,"s":"R","t":2008.5,"v":90},{"p":4,"s":"R","t":2010.1,"v":84},{"p":4,"s":"R","t":2011.5,"v":90},{"p":4,"s":"R","t":2012.9,"v":126},{"p":4,"s":"R","t":2014,"v":134},{"p":4,"s":"R","t":2015.1,"v":112},{"p":4,"s":"R","t":2016.5,"v":93},{"p":4,"s":"R","t":2017.9,"v":84},{"p":4,"s":"R","t":2018.6,"v":129},{"p":4,"s":"R","t":2019.7,"v":118},{"p":4,"s":"R","t":2021.1,"v":129},{"p":4,"s":"R","t":2022.4,"v":121},{"p":4,"s":"R","t":2023.3,"v":140},{"p":4,"s":"R","t":2024.7,"v":196},{"p":4,"s":"R","t":2025.6,"v":168},{"p":4,"s":"R","t":2027,"v":168},{"p":4,"s":"R","t":2027.9,"v":118},{"p":4,"s":"R","t":2029,"v":84},{"p":4,"s":"R","t":2030.2,"v":79},{"p":4,"s":"R","t":2031.5,"v":96},{"p":4,"s":"R","t":2033.4,"v":118},{"p":4,"s":"R","t":2034.3,"v":154},{"p":4,"s":"R","t":2034.7,"v":250},{"p":4,"s":"R","t":2035.2,"v":250},{"p":4,"s":"R","t":2036.1,"v":207},{"p":4,"s":"R","t":2037.5,"v":179},{"p":4,"s":"R","t":2038.6,"v":115},{"p":4,"s":"R","t":2039.7,"v":112},{"p":4,"s":"R","t":2040.6,"v":129},{"p":4,"s":"R","t":2042.5,"v":126},{"p":4,"s":"R","t":2043.8,"v":123},{"p":4,"s":"R","t":2045.2,"v":140},{"p":4,"s":"R","t":2046.1,"v":118},{"p":4,"s":"R","t":2047.9,"v":109},{"p":4,"s":"R","t":2049.8,"v":176},{"p":4,"s":"R","t":2050.7,"v":140},{"p":4,"s":"R","t":2052,"v":112},{"p":4,"s":"R","t":2053.9,"v":109},{"p":4,"s":"R","t":2054.8,"v":176},{"p":4,"s":"R","t":2055.7,"v":146},{"p":4,"s":"R","t":2057,"v":115},{"p":4,"s":"R","t":2059.3,"v":87},{"p":4,"s":"R","t":2061.1,"v":96},{"p":4,"s":"R","t":2061.8,"v":104},{"p":4,"s":"R","t":2063,"v":126},{"p":4,"s":"R","t":2063.9,"v":132},{"p":4,"s":"R","t":2065,"v":132},{"p":4,"s":"R","t":2066.1,"v":151},{"p":4,"s":"R","t":2067.3,"v":173},{"p":4,"s":"R","t":2068.4,"v":143},{"p":4,"s":"R","t":2069.8,"v":109},{"p":4,"s":"R","t":2071.6,"v":90},{"p":4,"s":"R","t":2072.5,"v":109},{"p":4,"s":"R","t":2073.9,"v":112},{"p":4,"s":"R","t":2074.8,"v":98},{"p":4,"s":"R","t":2075.7,"v":98},{"p":4,"s":"R","t":2077.1,"v":107},{"p":4,"s":"R","t":2078.4,"v":107},{"p":4,"s":"R","t":2079.8,"v":123},{"p":4,"s":"R","t":2080.7,"v":101},{"p":4,"s":"R","t":2082.5,"v":143},{"p":4,"s":"R","t":2083.4,"v":140},{"p":4,"s":"R","t":2084.8,"v":134},{"p":4,"s":"R","t":2086.2,"v":101},{"p":4,"s":"R","t":2087.6,"v":96},{"p":4,"s":"R","t":2088.5,"v":104},{"p":4,"s":"R","t":2089.8,"v":104},{"p":4,"s":"R","t":2091.6,"v":129},{"p":4,"s":"R","t":2093.5,"v":157},{"p":4,"s":"R","t":2093.9,"v":179},{"p":4,"s":"R","t":2094.8,"v":129},{"p":4,"s":"R","t":2097.1,"v":126},{"p":4,"s":"R","t":2098.5,"v":98},{"p":4,"s":"R","t":2101.7,"v":96},{"p":4,"s":"R","t":2102.8,"v":134},{"p":4,"s":"R","t":2103.9,"v":98},{"p":4,"s":"R","t":2105,"v":93}
  ],
  "mk": [
    {"p":1,"t":2007.9,"v":133},
    {"p":2,"t":2005.8,"v":151},{"p":2,"t":2006.7,"v":123},{"p":2,"t":2007.9,"v":133},
    {"p":3,"t":2003.8,"v":113},{"p":3,"t":2004.4,"v":130},{"p":3,"t":2005.6,"v":150},{"p":3,"t":2006.7,"v":118},{"p":3,"t":2007.9,"v":133},
    {"p":4,"t":2001.5,"v":79},{"p":4,"t":2002.5,"v":90},{"p":4,"t":2004,"v":112},{"p":4,"t":2004.4,"v":129},{"p":4,"t":2005.8,"v":148},{"p":4,"t":2006.9,"v":121},{"p":4,"t":2007.9,"v":132}
  ]
},
"vconcat": [
  {"width": 1062, "height": 116, "resolve": {"axis": {"x": "independent", "y": "independent"}},
   "layer": [
    {"data": {"name": "bg"}, "mark": {"type": "rect"}, "encoding": {"x": {"field": "a", "type": "quantitative", "scale": {"domain": [1960, 2105], "nice": false, "zero": false}, "axis": {"orient": "bottom", "values": [1960,1980,2000,2020,2040,2060,2080,2100], "format": "d", "offset": -7, "tickSize": 7, "labelPadding": 10, "title": null}}, "x2": {"field": "b"}, "y": {"datum": 50, "type": "quantitative", "scale": {"domain": [50, 250], "nice": false, "zero": false}, "axis": {"orient": "left", "values": [100, 200], "offset": -8, "tickSize": 8, "labelPadding": 15, "title": "Flow Rate", "titlePadding": 30}}, "y2": {"datum": 250}, "color": {"field": "c", "type": "nominal", "scale": {"domain": ["obs", "pred"], "range": ["#f8f8f8", "#d8efef"]}, "legend": null}}},
    {"data": {"name": "bg"}, "transform": [{"filter": "datum.c == 'pred'"}], "mark": {"type": "rule", "color": "#000000", "strokeWidth": 2}, "encoding": {"x": {"field": "a", "type": "quantitative", "scale": {"domain": [1960, 2105], "nice": false, "zero": false}, "axis": {"orient": "top", "values": [1960,1980,2000,2020,2040,2060,2080,2100], "offset": -7, "tickSize": 7, "labels": false, "title": null}}}},
    {"data": {"name": "obs"}, "mark": {"type": "line", "color": "#0000ff", "strokeWidth": 4.5, "clip": true}, "encoding": {"x": {"field": "t", "type": "quantitative", "scale": {"domain": [1960, 2105], "nice": false, "zero": false}, "axis": null}, "y": {"field": "v", "type": "quantitative", "scale": {"domain": [50, 250], "nice": false, "zero": false}, "axis": null}}},
    {"data": {"name": "ser"}, "transform": [{"filter": "datum.p == 1 && datum.s == 'R'"}], "mark": {"type": "line", "color": "#ff0000", "strokeWidth": 4.5, "clip": true}, "encoding": {"x": {"field": "t", "type": "quantitative", "scale": {"domain": [1960, 2105], "nice": false, "zero": false}, "axis": null}, "y": {"field": "v", "type": "quantitative", "scale": {"domain": [50, 250], "nice": false, "zero": false}, "axis": null}}},
    {"data": {"name": "ser"}, "transform": [{"filter": "datum.p == 1 && datum.s == 'B'"}], "mark": {"type": "line", "color": "#0000ff", "strokeWidth": 4.5, "clip": true}, "encoding": {"x": {"field": "t", "type": "quantitative", "scale": {"domain": [1960, 2105], "nice": false, "zero": false}, "axis": null}, "y": {"field": "v", "type": "quantitative", "scale": {"domain": [50, 250], "nice": false, "zero": false}, "axis": null}}},
    {"data": {"name": "mk"}, "transform": [{"filter": "datum.p == 1"}], "mark": {"type": "point", "shape": "M-1,0L1,0M0,-1L0,1", "size": 144, "stroke": "#00ff00", "strokeWidth": 2, "filled": false, "opacity": 1}, "encoding": {"x": {"field": "t", "type": "quantitative", "scale": {"domain": [1960, 2105], "nice": false, "zero": false}, "axis": null}, "y": {"field": "v", "type": "quantitative", "scale": {"domain": [50, 250], "nice": false, "zero": false}, "axis": null}}}
   ]},
  {"width": 1062, "height": 115, "resolve": {"axis": {"x": "independent", "y": "independent"}},
   "layer": [
    {"data": {"name": "bg"}, "mark": {"type": "rect"}, "encoding": {"x": {"field": "a", "type": "quantitative", "scale": {"domain": [1960, 2105], "nice": false, "zero": false}, "axis": {"orient": "bottom", "values": [1960,1980,2000,2020,2040,2060,2080,2100], "format": "d", "offset": -7, "tickSize": 7, "labelPadding": 10, "title": null}}, "x2": {"field": "b"}, "y": {"datum": 50, "type": "quantitative", "scale": {"domain": [50, 250], "nice": false, "zero": false}, "axis": {"orient": "left", "values": [100, 200], "offset": -8, "tickSize": 8, "labelPadding": 15, "title": "Flow Rate", "titlePadding": 30}}, "y2": {"datum": 250}, "color": {"field": "c", "type": "nominal", "scale": {"domain": ["obs", "pred"], "range": ["#f8f8f8", "#d8efef"]}, "legend": null}}},
    {"data": {"name": "bg"}, "transform": [{"filter": "datum.c == 'pred'"}], "mark": {"type": "rule", "color": "#000000", "strokeWidth": 2}, "encoding": {"x": {"field": "a", "type": "quantitative", "scale": {"domain": [1960, 2105], "nice": false, "zero": false}, "axis": {"orient": "top", "values": [1960,1980,2000,2020,2040,2060,2080,2100], "offset": -7, "tickSize": 7, "labels": false, "title": null}}}},
    {"data": {"name": "obs"}, "mark": {"type": "line", "color": "#0000ff", "strokeWidth": 4.5, "clip": true}, "encoding": {"x": {"field": "t", "type": "quantitative", "scale": {"domain": [1960, 2105], "nice": false, "zero": false}, "axis": null}, "y": {"field": "v", "type": "quantitative", "scale": {"domain": [50, 250], "nice": false, "zero": false}, "axis": null}}},
    {"data": {"name": "ser"}, "transform": [{"filter": "datum.p == 2 && datum.s == 'R'"}], "mark": {"type": "line", "color": "#ff0000", "strokeWidth": 4.5, "clip": true}, "encoding": {"x": {"field": "t", "type": "quantitative", "scale": {"domain": [1960, 2105], "nice": false, "zero": false}, "axis": null}, "y": {"field": "v", "type": "quantitative", "scale": {"domain": [50, 250], "nice": false, "zero": false}, "axis": null}}},
    {"data": {"name": "ser"}, "transform": [{"filter": "datum.p == 2 && datum.s == 'B'"}], "mark": {"type": "line", "color": "#0000ff", "strokeWidth": 4.5, "clip": true}, "encoding": {"x": {"field": "t", "type": "quantitative", "scale": {"domain": [1960, 2105], "nice": false, "zero": false}, "axis": null}, "y": {"field": "v", "type": "quantitative", "scale": {"domain": [50, 250], "nice": false, "zero": false}, "axis": null}}},
    {"data": {"name": "mk"}, "transform": [{"filter": "datum.p == 2"}], "mark": {"type": "point", "shape": "M-1,0L1,0M0,-1L0,1", "size": 144, "stroke": "#00ff00", "strokeWidth": 2, "filled": false, "opacity": 1}, "encoding": {"x": {"field": "t", "type": "quantitative", "scale": {"domain": [1960, 2105], "nice": false, "zero": false}, "axis": null}, "y": {"field": "v", "type": "quantitative", "scale": {"domain": [50, 250], "nice": false, "zero": false}, "axis": null}}}
   ]},
  {"width": 1062, "height": 116, "resolve": {"axis": {"x": "independent", "y": "independent"}},
   "layer": [
    {"data": {"name": "bg"}, "mark": {"type": "rect"}, "encoding": {"x": {"field": "a", "type": "quantitative", "scale": {"domain": [1960, 2105], "nice": false, "zero": false}, "axis": {"orient": "bottom", "values": [1960,1980,2000,2020,2040,2060,2080,2100], "format": "d", "offset": -7, "tickSize": 7, "labelPadding": 10, "title": null}}, "x2": {"field": "b"}, "y": {"datum": 50, "type": "quantitative", "scale": {"domain": [50, 250], "nice": false, "zero": false}, "axis": {"orient": "left", "values": [100, 200], "offset": -8, "tickSize": 8, "labelPadding": 15, "title": "Flow Rate", "titlePadding": 30}}, "y2": {"datum": 250}, "color": {"field": "c", "type": "nominal", "scale": {"domain": ["obs", "pred"], "range": ["#f8f8f8", "#d8efef"]}, "legend": null}}},
    {"data": {"name": "bg"}, "transform": [{"filter": "datum.c == 'pred'"}], "mark": {"type": "rule", "color": "#000000", "strokeWidth": 2}, "encoding": {"x": {"field": "a", "type": "quantitative", "scale": {"domain": [1960, 2105], "nice": false, "zero": false}, "axis": {"orient": "top", "values": [1960,1980,2000,2020,2040,2060,2080,2100], "offset": -7, "tickSize": 7, "labels": false, "title": null}}}},
    {"data": {"name": "obs"}, "mark": {"type": "line", "color": "#0000ff", "strokeWidth": 4.5, "clip": true}, "encoding": {"x": {"field": "t", "type": "quantitative", "scale": {"domain": [1960, 2105], "nice": false, "zero": false}, "axis": null}, "y": {"field": "v", "type": "quantitative", "scale": {"domain": [50, 250], "nice": false, "zero": false}, "axis": null}}},
    {"data": {"name": "ser"}, "transform": [{"filter": "datum.p == 3 && datum.s == 'R'"}], "mark": {"type": "line", "color": "#ff0000", "strokeWidth": 4.5, "clip": true}, "encoding": {"x": {"field": "t", "type": "quantitative", "scale": {"domain": [1960, 2105], "nice": false, "zero": false}, "axis": null}, "y": {"field": "v", "type": "quantitative", "scale": {"domain": [50, 250], "nice": false, "zero": false}, "axis": null}}},
    {"data": {"name": "ser"}, "transform": [{"filter": "datum.p == 3 && datum.s == 'B'"}], "mark": {"type": "line", "color": "#0000ff", "strokeWidth": 4.5, "clip": true}, "encoding": {"x": {"field": "t", "type": "quantitative", "scale": {"domain": [1960, 2105], "nice": false, "zero": false}, "axis": null}, "y": {"field": "v", "type": "quantitative", "scale": {"domain": [50, 250], "nice": false, "zero": false}, "axis": null}}},
    {"data": {"name": "mk"}, "transform": [{"filter": "datum.p == 3"}], "mark": {"type": "point", "shape": "M-1,0L1,0M0,-1L0,1", "size": 144, "stroke": "#00ff00", "strokeWidth": 2, "filled": false, "opacity": 1}, "encoding": {"x": {"field": "t", "type": "quantitative", "scale": {"domain": [1960, 2105], "nice": false, "zero": false}, "axis": null}, "y": {"field": "v", "type": "quantitative", "scale": {"domain": [50, 250], "nice": false, "zero": false}, "axis": null}}}
   ]},
  {"width": 1062, "height": 121, "resolve": {"axis": {"x": "independent", "y": "independent"}},
   "layer": [
    {"data": {"name": "bg"}, "mark": {"type": "rect"}, "encoding": {"x": {"field": "a", "type": "quantitative", "scale": {"domain": [1960, 2105], "nice": false, "zero": false}, "axis": {"orient": "bottom", "values": [1960,1980,2000,2020,2040,2060,2080,2100], "format": "d", "offset": -7, "tickSize": 7, "labelPadding": 10, "title": "Years", "titleFontSize": 22, "titlePadding": 6}}, "x2": {"field": "b"}, "y": {"datum": 50, "type": "quantitative", "scale": {"domain": [50, 250], "nice": false, "zero": false}, "axis": {"orient": "left", "values": [100, 200], "offset": -8, "tickSize": 8, "labelPadding": 15, "title": "Flow Rate", "titlePadding": 30}}, "y2": {"datum": 250}, "color": {"field": "c", "type": "nominal", "scale": {"domain": ["obs", "pred"], "range": ["#f8f8f8", "#d8efef"]}, "legend": null}}},
    {"data": {"name": "bg"}, "transform": [{"filter": "datum.c == 'pred'"}], "mark": {"type": "rule", "color": "#000000", "strokeWidth": 2}, "encoding": {"x": {"field": "a", "type": "quantitative", "scale": {"domain": [1960, 2105], "nice": false, "zero": false}, "axis": {"orient": "top", "values": [1960,1980,2000,2020,2040,2060,2080,2100], "offset": -7, "tickSize": 7, "labels": false, "title": null}}}},
    {"data": {"name": "obs"}, "mark": {"type": "line", "color": "#0000ff", "strokeWidth": 4.5, "clip": true}, "encoding": {"x": {"field": "t", "type": "quantitative", "scale": {"domain": [1960, 2105], "nice": false, "zero": false}, "axis": null}, "y": {"field": "v", "type": "quantitative", "scale": {"domain": [50, 250], "nice": false, "zero": false}, "axis": null}}},
    {"data": {"name": "ser"}, "transform": [{"filter": "datum.p == 4 && datum.s == 'R'"}], "mark": {"type": "line", "color": "#ff0000", "strokeWidth": 4.5, "clip": true}, "encoding": {"x": {"field": "t", "type": "quantitative", "scale": {"domain": [1960, 2105], "nice": false, "zero": false}, "axis": null}, "y": {"field": "v", "type": "quantitative", "scale": {"domain": [50, 250], "nice": false, "zero": false}, "axis": null}}},
    {"data": {"name": "ser"}, "transform": [{"filter": "datum.p == 4 && datum.s == 'B'"}], "mark": {"type": "line", "color": "#0000ff", "strokeWidth": 4.5, "clip": true}, "encoding": {"x": {"field": "t", "type": "quantitative", "scale": {"domain": [1960, 2105], "nice": false, "zero": false}, "axis": null}, "y": {"field": "v", "type": "quantitative", "scale": {"domain": [50, 250], "nice": false, "zero": false}, "axis": null}}},
    {"data": {"name": "mk"}, "transform": [{"filter": "datum.p == 4"}], "mark": {"type": "point", "shape": "M-1,0L1,0M0,-1L0,1", "size": 144, "stroke": "#00ff00", "strokeWidth": 2, "filled": false, "opacity": 1}, "encoding": {"x": {"field": "t", "type": "quantitative", "scale": {"domain": [1960, 2105], "nice": false, "zero": false}, "axis": null}, "y": {"field": "v", "type": "quantitative", "scale": {"domain": [50, 250], "nice": false, "zero": false}, "axis": null}}}
   ]}
]
}
